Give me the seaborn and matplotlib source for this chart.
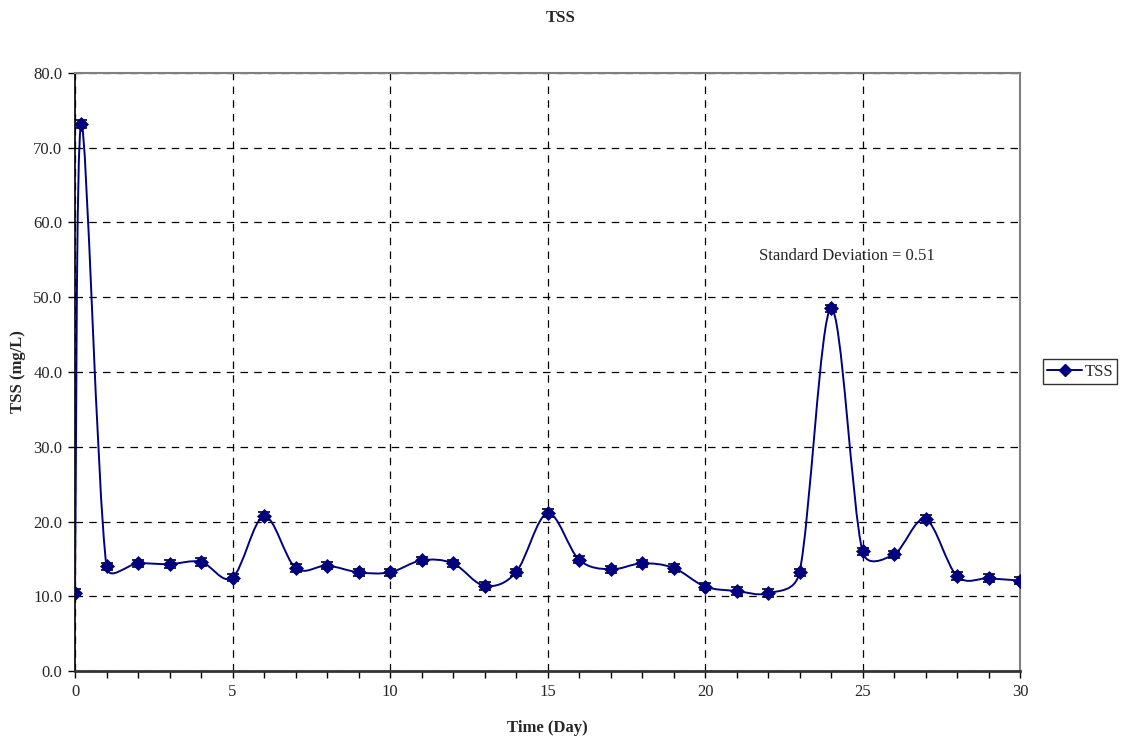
import numpy as np
import pandas as pd
import matplotlib
matplotlib.use("Agg")
import matplotlib.pyplot as plt
from matplotlib.path import Path
from matplotlib.patches import PathPatch
from matplotlib.lines import Line2D
import seaborn as sns

days = [0, 0.2, 1, 2, 3, 4, 5, 6, 7, 8, 9, 10, 11, 12, 13, 14, 15, 16, 17, 18, 19,
        20, 21, 22, 23, 24, 25, 26, 27, 28, 29, 30]
tss = [10.5, 73.2, 14.0, 14.4, 14.3, 14.6, 12.5, 20.7, 13.8, 14.1, 13.2, 13.2, 14.8,
       14.4, 11.4, 13.2, 21.1, 14.9, 13.6, 14.4, 13.8, 11.3, 10.7, 10.4, 13.2, 48.5,
       16.0, 15.6, 20.3, 12.7, 12.4, 12.1]
std_dev = 0.51
x_ticks = [0, 5, 10, 15, 20, 25, 30]
y_ticks = [0, 10, 20, 30, 40, 50, 60, 70, 80]

df = pd.DataFrame({"Time (Day)": days, "TSS (mg/L)": tss})

sns.set_style("white")
plt.rcParams["font.family"] = ["Liberation Serif", "DejaVu Serif"]
plt.rcParams["font.size"] = 12

fig = plt.figure(figsize=(11.22, 7.38), dpi=100)
ax = fig.add_axes([75 / 1122, 67 / 738, 945 / 1122, 598 / 738])

navy = "#000080"

ax.set_xlim(0, 30)
ax.set_ylim(0, 80)

# smoothed line (Excel-style Bezier smoothing through the data points):
# Catmull-Rom tangents in screen space, capped relative to segment length
sx = 945 / 30.0
sy = 598 / 80.0
P = np.column_stack([np.array(days, float) * sx, np.array(tss, float) * sy])
n = len(P)
cap = 0.55


def tangent(i):
    return (P[min(i + 1, n - 1)] - P[max(i - 1, 0)]) / 6.0


def capped(v, seg):
    m = np.hypot(*v)
    lim = cap * seg
    return v * (lim / m) if m > lim else v


verts = [tuple(P[0])]
codes = [Path.MOVETO]
for i in range(n - 1):
    p1, p2 = P[i], P[i + 1]
    seg = np.hypot(*(p2 - p1))
    c1 = p1 + capped(tangent(i), seg)
    c2 = p2 - capped(tangent(i + 1), seg)
    verts += [tuple(c1), tuple(c2), tuple(p2)]
    codes += [Path.CURVE4] * 3
verts = [(vx / sx, vy / sy) for vx, vy in verts]
ax.add_patch(PathPatch(Path(verts, codes), facecolor="none", edgecolor=navy,
                       linewidth=1.4, zorder=3))

ax.errorbar(df["Time (Day)"], df["TSS (mg/L)"], yerr=std_dev, fmt="none",
            ecolor="black", elinewidth=1.0, capsize=4.5, capthick=1.2, zorder=4)
sns.scatterplot(data=df, x="Time (Day)", y="TSS (mg/L)", marker="D", s=50,
                color=navy, edgecolor=navy, ax=ax, zorder=5, legend=False)

ax.set_xlim(0, 30)
ax.set_ylim(0, 80)
ax.set_xticks(x_ticks)
ax.set_xticks(range(0, 31), minor=True)
ax.set_yticks(y_ticks)
ax.set_yticklabels([f"{v:.1f}" for v in y_ticks])
ax.tick_params(axis="both", which="both", direction="out", length=5, width=1,
               color="black", labelsize=12, left=True, bottom=True, pad=4)
ax.tick_params(axis="x", which="minor", length=5)

ax.grid(True, which="major", color="black", linestyle=(0, (6, 5)), linewidth=0.9)
ax.set_axisbelow(True)
for side in ["top", "right"]:
    ax.spines[side].set_color("#808080")
    ax.spines[side].set_linewidth(1.5)
ax.spines["left"].set_color("black")
ax.spines["left"].set_linewidth(1.2)
ax.spines["bottom"].set_color("#333333")
ax.spines["bottom"].set_linewidth(2)

ax.set_xlabel("Time (Day)", fontweight="bold", fontsize=12, labelpad=15)
ax.set_ylabel("TSS (mg/L)", fontweight="bold", fontsize=12, labelpad=5)
fig.suptitle("TSS", fontweight="bold", fontsize=12, x=0.5, y=1 - 18 / 738,
             va="center")

ax.text(24.5, 55.5, f"Standard Deviation = {std_dev:.2f}", ha="center",
        va="center", fontsize=12)

handle = Line2D([0], [0], color=navy, marker="D", markersize=6, linewidth=1.4)
leg = fig.legend([handle], ["TSS"], loc="center left",
                 bbox_to_anchor=(1043 / 1122, 1 - 371.5 / 738), frameon=True,
                 fancybox=False, edgecolor="black", fontsize=12,
                 handlelength=2.1, borderpad=0.25, handletextpad=0.15,
                 borderaxespad=0)
leg.get_frame().set_linewidth(1)

fig.savefig("out.png", dpi=100)
